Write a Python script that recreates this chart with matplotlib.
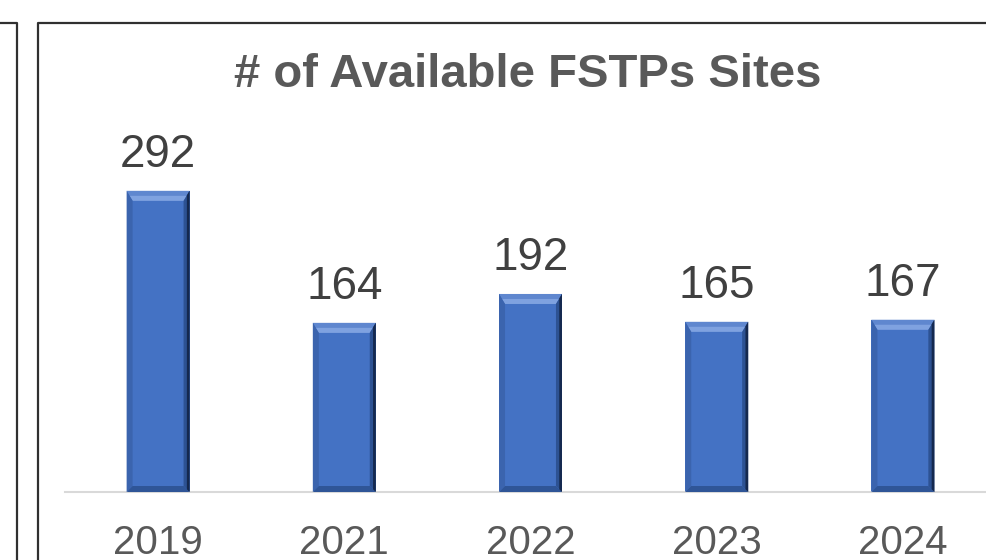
import matplotlib
matplotlib.use('Agg')
import matplotlib.pyplot as plt
from matplotlib.patches import Polygon
from matplotlib.lines import Line2D

# data
years = ['2019', '2021', '2022', '2023', '2024']
sites = [292, 164, 192, 165, 167]
title = '# of Available FSTPs Sites'

plt.rcParams['font.family'] = ['Liberation Sans', 'DejaVu Sans']

W, H = 986, 560
fig = plt.figure(figsize=(W / 100, H / 100), dpi=100)
fig.patch.set_facecolor('white')

# axes placed in pixel terms (right part runs past the figure edge)
ax_l, ax_r, ax_b, ax_t = 65, 996, 492, 131
ax = fig.add_axes([ax_l / W, (H - ax_b) / H, (ax_r - ax_l) / W, (ax_b - ax_t) / H])
ymax = 350
ax.set_ylim(0, ymax)
ax.set_xlim(-0.5, len(years) - 0.5)

bar_w = 0.338
bars = ax.bar(range(len(years)), sites, width=bar_w, color='#4472C4', zorder=2)

# bevel effect, sizes in pixels converted to data units
px_x = (len(years)) / (ax_r - ax_l)
px_y = ymax / (ax_b - ax_t)
s_in, t_top, b_bot = 6 * px_x, 10 * px_y, 6 * px_y
for rect in bars:
    x0 = rect.get_x()
    x1 = x0 + rect.get_width()
    y0 = 0
    y1 = rect.get_height()
    top = [(x0, y1), (x1, y1), (x1 - s_in, y1 - t_top), (x0 + s_in, y1 - t_top)]
    top_in = [(x0 + s_in * 0.5, y1 - t_top * 0.5), (x1 - s_in * 0.5, y1 - t_top * 0.5),
              (x1 - s_in, y1 - t_top), (x0 + s_in, y1 - t_top)]
    left = [(x0, y1), (x0 + s_in, y1 - t_top), (x0 + s_in, y0 + b_bot), (x0, y0)]
    right = [(x1, y1), (x1, y0), (x1 - s_in, y0 + b_bot), (x1 - s_in, y1 - t_top)]
    right_out = [(x1, y1), (x1, y0), (x1 - s_in * 0.45, y0 + b_bot * 0.45),
                 (x1 - s_in * 0.45, y1 - t_top * 0.45)]
    bottom = [(x0, y0), (x0 + s_in, y0 + b_bot), (x1 - s_in, y0 + b_bot), (x1, y0)]
    ax.add_patch(Polygon(top, closed=True, facecolor='#5F87CF', edgecolor='none', zorder=3))
    ax.add_patch(Polygon(top_in, closed=True, facecolor='#7FA2E0', edgecolor='none', zorder=3))
    ax.add_patch(Polygon(left, closed=True, facecolor='#3B64AE', edgecolor='none', zorder=3))
    ax.add_patch(Polygon(bottom, closed=True, facecolor='#2F5597', edgecolor='none', zorder=3))
    ax.add_patch(Polygon(right, closed=True, facecolor='#2D5293', edgecolor='none', zorder=4))
    ax.add_patch(Polygon(right_out, closed=True, facecolor='#15294F', edgecolor='none', zorder=5))

for i, v in enumerate(sites):
    ax.annotate(str(v), (i, v), xytext=(0, 10), textcoords='offset points',
                ha='center', va='bottom', fontsize=33, color='#404040')

ax.set_xticks(range(len(years)))
ax.set_xticklabels(years, fontsize=29, color='#595959')
ax.tick_params(axis='x', length=0, pad=23)
ax.set_yticks([])
for side in ['left', 'right', 'top']:
    ax.spines[side].set_visible(False)
ax.spines['bottom'].set_color('#D9D9D9')
ax.spines['bottom'].set_linewidth(1.5)
ax.set_facecolor('none')

fig.text(528 / W, 1 - 75 / H, title, ha='center', va='center',
         fontsize=34, fontweight='bold', color='#595959')

# panel borders
def fx(p):
    return p / W
def fy(p):
    return 1 - p / H

lc = '#303030'
fig.add_artist(Line2D([fx(0), fx(16.5), fx(16.5)], [fy(23), fy(23), fy(H + 5)],
                      color=lc, linewidth=1.6))
fig.add_artist(Line2D([fx(37.5), fx(37.5), fx(W + 5)], [fy(H + 5), fy(23), fy(23)],
                      color=lc, linewidth=1.6))

fig.savefig('out.png', dpi=100)
